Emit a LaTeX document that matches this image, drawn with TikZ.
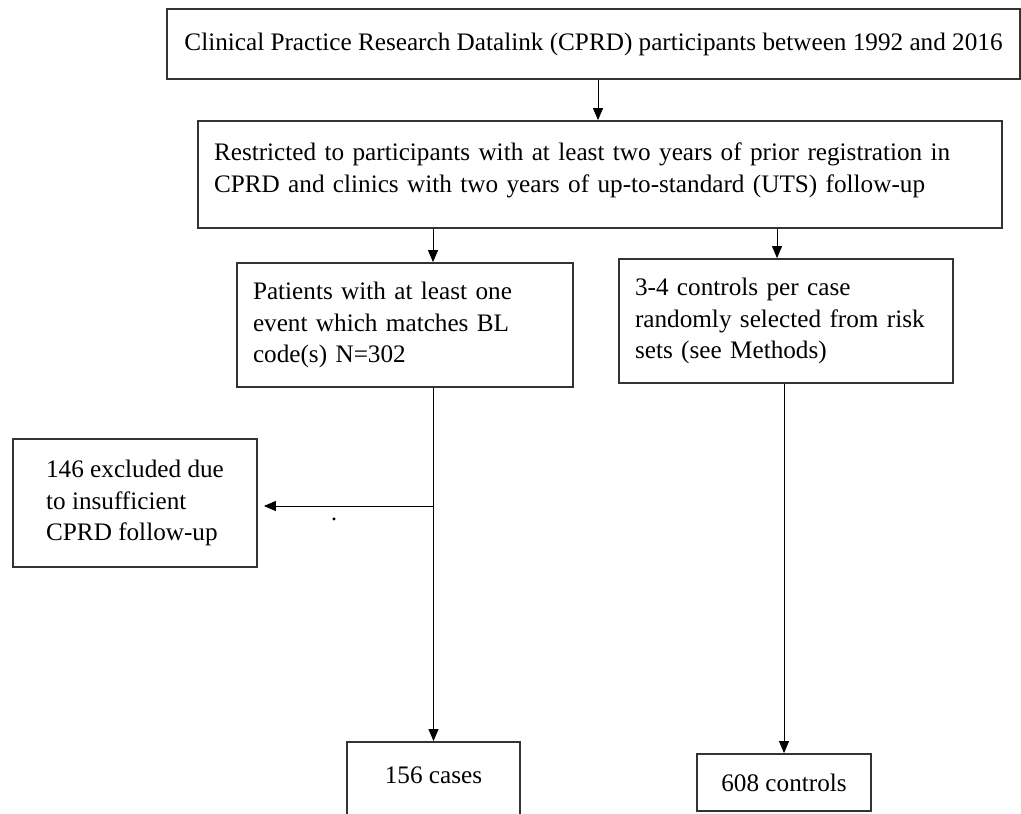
\documentclass[tikz,border=0pt]{standalone}
\usepackage{fontspec}
\setmainfont{Liberation Serif}
\usetikzlibrary{arrows.meta,positioning}
\tikzset{
    %Define standard arrow tip
    >={Triangle[width=5pt,length=6pt]},
    %Define style for boxes
    box/.style={
           rectangle,
           draw=black!80, line width=0.9pt,
           font=\fontsize{12.6pt}{15.8pt}\selectfont,
           inner xsep=8pt,
           align=left},
    % Define arrow style
    imply/.style={
           ->,
           line width=0.5pt}
}
\begin{document}
\begin{tikzpicture}[x=0.5pt, y=-0.5pt]
 \useasboundingbox (0,0) rectangle (1021,813);
 %nodes
    \node[box, minimum width=426.5pt, minimum height=35pt, align=center] (cprd) at (593.5,44) {Clinical Practice Research Datalink (CPRD) participants between 1992 and 2016};
    \node[box, text width=386pt, minimum height=53.5pt, text depth=22.5pt] (restr) at (600,174.5) {Restricted to participants with at least two years of prior registration in\\ CPRD and clinics with two years of up-to-standard (UTS) follow-up};
    \node[box, text width=152pt, minimum height=62pt] (pat) at (405,325) {Patients with at least one\\ event which matches BL\\ code(s) N=302};
    \node[box, text width=151pt, minimum height=62pt] (ctrl) at (786,321) {3-4 controls per case\\ randomly selected from risk\\ sets (see Methods)};
    \node[box, minimum width=122pt, minimum height=64pt] (excl) at (135,503) {146 excluded due\\ to insufficient\\ CPRD follow-up};
    \node[box, anchor=north, minimum width=86.5pt, align=center, inner ysep=12.5pt, text depth=40pt] (cases) at (433.5,741) {156 cases};
    \node[box, minimum width=87pt, minimum height=28.5pt, align=center] (ctrls) at (784,782.5) {608 controls};
    \node[inner sep=0pt, font=\fontsize{12pt}{14pt}\selectfont] (stray) at (334,519) {.};
 %edges
    \draw[imply] ([xshift=2.25pt]cprd.south) -- ([xshift=2.25pt]cprd.south |- restr.north);
    \draw[imply] ([xshift=14pt]pat.north |- restr.south) -- ([xshift=14pt]pat.north);
    \draw[imply] ([xshift=-4.5pt]ctrl.north |- restr.south) -- ([xshift=-4.5pt]ctrl.north);
    \draw[imply] (pat.south -| cases.north) -- (cases.north);
    \draw[imply, shorten >=3pt] ([yshift=-1.5pt]excl.east -| cases.north) -- ([yshift=-1.5pt]excl.east); % branch to the excluded box
    \draw[imply] (ctrl.south -| ctrls.north) -- (ctrls.north);
\end{tikzpicture}
\end{document}
